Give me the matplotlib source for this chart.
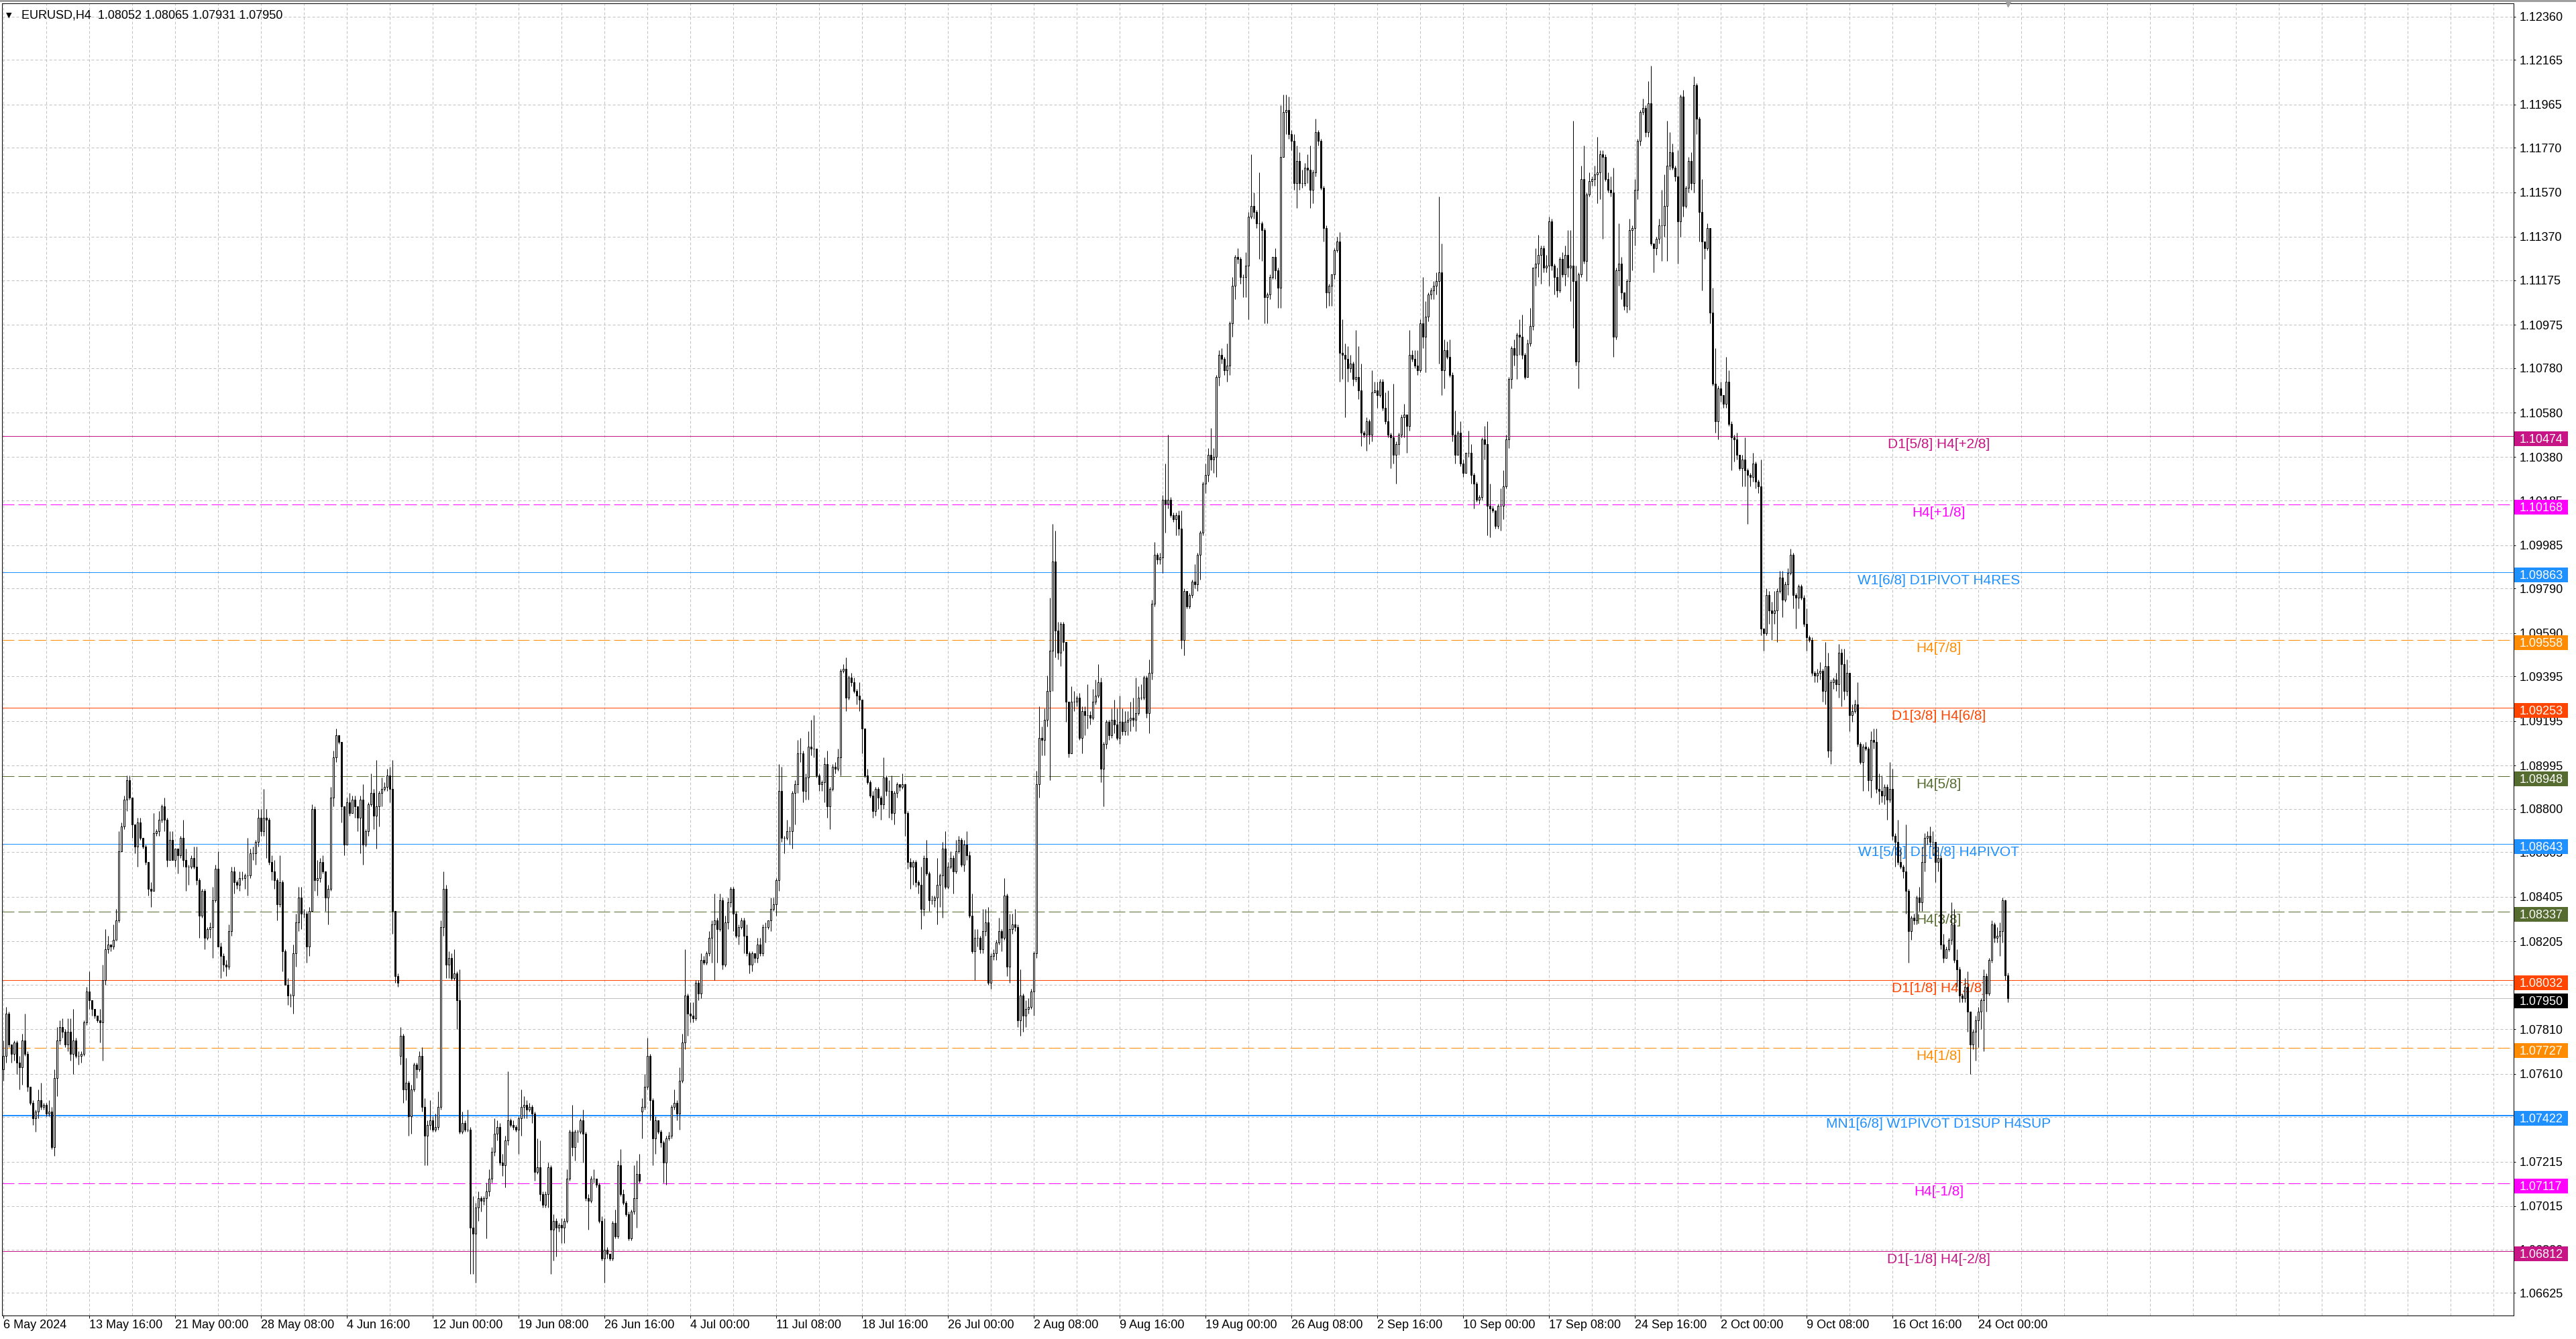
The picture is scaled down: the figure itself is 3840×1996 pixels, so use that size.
import numpy as np
import matplotlib
matplotlib.use('Agg')
import matplotlib.pyplot as plt
import matplotlib.transforms as mtransforms
from matplotlib.patches import Rectangle

plt.rcParams['font.family'] = ['Liberation Sans', 'DejaVu Sans']

# ---------------------------------------------------------------
# EURUSD H4 candles, prices written as pips above 1.0000
# (open of a candle = previous close, except the listed gaps)
# ---------------------------------------------------------------
first_open = 763
gap_opens = {148: 769, 238: 744}

close_pips = [
    # 0-93
    769, 788, 774, 770, 775, 766, 764, 776, 770, 755, 748, 741, 744, 749, 746, 747, 743, 744, 728, 759,
    776, 782, 780, 774, 780, 770, 776, 769, 769, 770, 784, 798, 794, 790, 787, 785, 784, 803, 817, 819,
    818, 821, 830, 861, 872, 884, 893, 885, 873, 863, 874, 867, 863, 856, 844, 843, 869, 870, 875, 881,
    875, 857, 866, 857, 862, 859, 867, 857, 854, 854, 858, 854, 848, 832, 843, 822, 826, 827, 839, 853,
    818, 814, 810, 809, 825, 852, 847, 846, 849, 849, 850, 850, 860, 860,
    # 94-188
    865, 876, 870, 876, 875, 856, 852, 848, 837, 847, 816, 801, 796, 796, 815, 829, 840, 833, 833, 818,
    834, 880, 848, 849, 856, 852, 840, 844, 885, 903, 913, 910, 881, 864, 883, 878, 884, 881, 876, 884,
    864, 870, 882, 887, 877, 881, 887, 889, 890, 895, 889, 834, 805, 802, 778, 754, 757, 742, 754, 765,
    763, 769, 746, 733, 738, 740, 736, 737, 746, 827, 844, 810, 813, 804, 806, 794, 735, 739, 736, 736,
    692, 689, 701, 705, 704, 705, 708, 714, 726, 734, 737, 721, 720, 731, 740,
    # 189-281
    738, 737, 736, 741, 746, 747, 745, 746, 743, 717, 719, 707, 702, 707, 719, 691, 695, 692, 693, 692,
    695, 714, 735, 728, 735, 735, 740, 734, 705, 704, 714, 714, 711, 695, 678, 682, 680, 678, 694, 688,
    720, 707, 703, 698, 687, 699, 705, 716, 713, 746, 755, 769, 749, 732, 740, 735, 730, 721, 732, 733,
    746, 748, 743, 758, 775, 796, 788, 787, 786, 802, 797, 812, 811, 815, 822, 828, 830, 826, 839, 810,
    829, 838, 844, 833, 823, 827, 830, 823, 815, 810, 815, 813, 819,
    # 282-383
    815, 827, 827, 830, 835, 837, 848, 888, 867, 867, 870, 870, 887, 891, 905, 905, 888, 894, 908, 907,
    907, 895, 891, 892, 900, 881, 889, 899, 898, 903, 942, 943, 930, 939, 937, 933, 931, 929, 916, 895,
    892, 886, 879, 889, 885, 882, 894, 888, 888, 878, 887, 891, 890, 891, 878, 856, 854, 856, 847, 846,
    835, 858, 851, 839, 839, 840, 846, 850, 862, 845, 854, 858, 852, 861, 866, 855, 864, 859, 832, 816,
    822, 822, 817, 825, 829, 802, 814, 815, 820, 825, 822, 841, 809, 826, 828, 827, 785, 796, 787, 790,
    791, 798,
    # 384-433
    815, 891, 912, 911, 920, 933, 951, 991, 960, 950, 963, 955, 928, 905, 928, 928, 930, 912, 924, 922,
    922, 921, 928, 931, 937, 898, 909, 919, 913, 920, 918, 912, 919, 915, 919, 920, 921, 920, 923, 930,
    930, 939, 923, 941, 972, 994, 992, 993, 1019, 1017,
    # 434-483
    1019, 1012, 1010, 1012, 1006, 956, 978, 971, 976, 982, 981, 994, 1004, 1026, 1030, 1039, 1037, 1038, 1074, 1084,
    1082, 1077, 1079, 1098, 1115, 1128, 1127, 1119, 1119, 1124, 1146, 1151, 1148, 1143, 1143, 1140, 1110, 1111, 1119, 1128,
    1122, 1114, 1173, 1193, 1194, 1183, 1180, 1161, 1171, 1161,
    # 484-578
    1161, 1168, 1167, 1158, 1166, 1184, 1180, 1159, 1141, 1112, 1115, 1120, 1131, 1135, 1085, 1084, 1082, 1078, 1080, 1073,
    1074, 1068, 1049, 1048, 1054, 1048, 1067, 1068, 1066, 1072, 1060, 1054, 1048, 1047, 1039, 1044, 1048, 1056, 1057, 1052,
    1084, 1082, 1079, 1077, 1098, 1092, 1101, 1111, 1113, 1115, 1117, 1121, 1077, 1086, 1083, 1075, 1048, 1039, 1049, 1035,
    1031, 1040, 1040, 1030, 1026, 1019, 1020, 1046, 1044, 1016, 1015, 1014, 1007, 1016, 1016, 1025, 1046, 1073, 1087, 1084,
    1093, 1092, 1084, 1074, 1089, 1097, 1123, 1125, 1129, 1132, 1123, 1124, 1144, 1124, 1119,
    # 579-674
    1113, 1127, 1120, 1129, 1123, 1124, 1117, 1081, 1120, 1163, 1126, 1156, 1162, 1163, 1165, 1166, 1174, 1173, 1163, 1158,
    1157, 1092, 1122, 1125, 1112, 1106, 1117, 1140, 1141, 1158, 1180, 1193, 1195, 1184, 1197, 1134, 1132, 1136, 1142, 1142,
    1151, 1169, 1175, 1168, 1164, 1144, 1200, 1151, 1159, 1171, 1161, 1205, 1190, 1148, 1135, 1132, 1141, 1103, 1071, 1054,
    1069, 1066, 1062, 1072, 1053, 1047, 1046, 1039, 1033, 1037, 1032, 1030, 1029, 1035, 1027, 1025, 961, 959, 976, 969,
    968, 969, 978, 984, 974, 981, 986, 994, 976, 975, 980, 975, 963, 957, 956, 941,
    # 675-747
    940, 941, 942, 933, 944, 906, 937, 938, 936, 950, 945, 933, 941, 922, 924, 927, 909, 901, 908, 907,
    893, 911, 910, 889, 888, 886, 890, 884, 889, 868, 865, 856, 854, 852, 843, 825, 831, 830, 840, 838,
    856, 867, 868, 865, 865, 856, 858, 819, 813, 817, 821, 828, 812, 808, 796, 795, 800, 789, 774, 780,
    785, 789, 794, 805, 797, 812, 828, 822, 823, 825, 839, 805.2, 795.0,
]

high_pips = [
    # 0-93
    776, 791, 789, 774, 776, 776, 769, 779, 788, 771, 755, 749, 745, 754, 757, 748, 748, 749, 746, 763,
    782, 785, 786, 781, 786, 786, 790, 777, 771, 771, 785, 800, 807, 794, 790, 787, 790, 810, 826, 823,
    819, 828, 835, 870, 874, 886, 895, 895, 885, 873, 876, 876, 866, 864, 856, 847, 878, 871, 879, 882,
    885, 876, 870, 870, 862, 862, 868, 875, 862, 855, 859, 863, 863, 849, 844, 844, 827, 829, 845, 855,
    861, 820, 815, 812, 828, 854, 854, 848, 852, 852, 851, 867, 862, 863,
    # 94-188
    866, 880, 880, 889, 880, 876, 859, 857, 849, 859, 848, 817, 804, 797, 819, 833, 845, 845, 835, 834,
    836, 882, 881, 857, 858, 859, 852, 846, 890, 906, 916, 913, 910, 881, 885, 887, 886, 886, 881, 886,
    891, 871, 883, 896, 889, 902, 888, 894, 892, 898, 899, 902, 834, 806, 782, 779, 768, 758, 756, 766,
    766, 771, 773, 750, 740, 749, 742, 743, 753, 830, 852, 846, 816, 815, 817, 807, 808, 744, 740, 745,
    737, 706, 703, 708, 706, 706, 712, 718, 728, 741, 740, 739, 725, 733, 762,
    # 189-281
    741, 740, 738, 742, 754, 751, 749, 748, 747, 744, 732, 731, 708, 708, 721, 720, 698, 696, 694, 696,
    696, 718, 736, 747, 736, 736, 741, 745, 735, 707, 715, 718, 714, 712, 697, 696, 683, 680, 695, 700,
    722, 727, 709, 704, 699, 700, 720, 722, 725, 750, 761, 777, 770, 750, 742, 738, 736, 731, 733, 735,
    747, 754, 749, 764, 779, 817, 797, 793, 793, 803, 803, 815, 814, 816, 825, 830, 842, 831, 842, 840,
    832, 840, 845, 845, 834, 828, 831, 831, 828, 816, 816, 815, 822,
    # 282-383
    822, 828, 829, 830, 840, 840, 849, 900, 899, 868, 875, 872, 888, 893, 911, 912, 906, 896, 915, 920,
    922, 907, 896, 893, 903, 906, 890, 900, 901, 907, 943, 945, 948, 940, 941, 939, 934, 937, 929, 916,
    898, 893, 888, 890, 890, 886, 903, 895, 893, 895, 888, 892, 891, 896, 891, 879, 858, 857, 857, 848,
    854, 859, 866, 852, 841, 841, 858, 851, 865, 870, 856, 861, 859, 866, 868, 867, 866, 870, 861, 842,
    826, 826, 823, 835, 835, 836, 815, 817, 821, 831, 826, 849, 842, 833, 833, 835, 828, 808, 797, 794,
    795, 799,
    # 384-433
    816, 897, 926, 917, 925, 940, 975, 1008, 1005, 964, 964, 964, 954, 927, 935, 933, 931, 932, 926, 926,
    936, 924, 934, 938, 945, 939, 910, 920, 920, 925, 929, 925, 931, 925, 924, 924, 928, 930, 939, 935,
    936, 940, 940, 947, 974, 1000, 995, 995, 1021, 1035,
    # 434-483
    1048, 1020, 1013, 1013, 1014, 1014, 979, 978, 977, 983, 990, 995, 1005, 1027, 1035, 1042, 1051, 1042, 1075, 1086,
    1087, 1083, 1089, 1099, 1119, 1129, 1132, 1128, 1120, 1130, 1148, 1174, 1157, 1149, 1166, 1144, 1141, 1112, 1120, 1128,
    1132, 1123, 1196, 1201, 1201, 1200, 1185, 1183, 1178, 1175,
    # 484-578
    1167, 1170, 1174, 1178, 1167, 1190, 1185, 1181, 1160, 1142, 1116, 1120, 1132, 1137, 1139, 1100, 1089, 1088, 1084, 1081,
    1095, 1088, 1080, 1050, 1056, 1055, 1077, 1072, 1072, 1073, 1073, 1067, 1068, 1049, 1071, 1045, 1049, 1057, 1062, 1057,
    1095, 1086, 1086, 1086, 1100, 1119, 1108, 1112, 1114, 1117, 1121, 1155, 1134, 1091, 1090, 1091, 1076, 1059, 1050, 1054,
    1037, 1040, 1050, 1044, 1031, 1027, 1021, 1047, 1052, 1054, 1026, 1016, 1014, 1017, 1024, 1032, 1048, 1074, 1088, 1091,
    1094, 1100, 1102, 1085, 1091, 1105, 1123, 1132, 1138, 1133, 1133, 1129, 1146, 1145, 1125,
    # 579-674
    1123, 1128, 1130, 1133, 1140, 1140, 1189, 1124, 1121, 1169, 1178, 1157, 1166, 1164, 1169, 1182, 1176, 1176, 1174, 1166,
    1164, 1168, 1123, 1143, 1128, 1112, 1118, 1145, 1142, 1163, 1181, 1194, 1199, 1196, 1207, 1214, 1134, 1137, 1145, 1158,
    1165, 1189, 1184, 1179, 1169, 1176, 1201, 1203, 1160, 1173, 1175, 1209, 1206, 1191, 1163, 1135, 1143, 1141, 1114, 1087,
    1070, 1072, 1066, 1083, 1077, 1054, 1048, 1049, 1039, 1039, 1047, 1033, 1031, 1040, 1036, 1028, 1037, 961, 979, 978,
    973, 978, 979, 987, 987, 982, 988, 997, 995, 977, 981, 981, 976, 970, 958, 957,
    # 675-747
    942, 943, 946, 943, 955, 950, 938, 939, 941, 954, 952, 952, 947, 941, 927, 929, 937, 910, 909, 910,
    908, 915, 916, 916, 896, 895, 891, 891, 901, 898, 869, 875, 862, 855, 873, 844, 832, 833, 841, 845,
    863, 869, 870, 872, 870, 863, 863, 859, 824, 818, 822, 838, 835, 817, 809, 797, 804, 807, 789, 781,
    787, 791, 795, 808, 806, 813, 830, 829, 827, 829, 840, 839.3, 806.5,
]

low_pips = [
    # 0-93
    758, 766, 773, 766, 767, 761, 754, 756, 769, 753, 747, 738, 735, 741, 745, 745, 742, 742, 727, 724,
    751, 774, 777, 773, 771, 767, 761, 768, 765, 766, 769, 783, 790, 787, 786, 784, 775, 767, 801, 815,
    816, 817, 821, 829, 861, 871, 879, 884, 867, 860, 854, 866, 862, 855, 841, 836, 843, 868, 868, 874,
    870, 854, 858, 857, 854, 851, 858, 854, 843, 846, 853, 853, 846, 822, 831, 817, 821, 822, 813, 838,
    818, 804, 807, 805, 808, 823, 842, 844, 843, 848, 844, 841, 849, 857,
    # 94-188
    855, 863, 868, 868, 858, 855, 848, 844, 830, 836, 807, 801, 792, 791, 788, 809, 825, 826, 831, 811,
    814, 834, 843, 841, 847, 851, 834, 828, 843, 881, 901, 909, 874, 859, 864, 877, 878, 876, 870, 860,
    855, 863, 868, 881, 871, 862, 872, 881, 888, 888, 883, 824, 802, 800, 765, 748, 749, 733, 734, 753,
    759, 762, 744, 720, 720, 736, 735, 735, 736, 745, 823, 804, 804, 803, 803, 781, 734, 734, 735, 735,
    671, 671, 667, 695, 699, 702, 687, 706, 712, 724, 731, 720, 715, 710, 729,
    # 189-281
    737, 736, 735, 725, 733, 741, 741, 744, 739, 713, 716, 704, 701, 701, 701, 671, 677, 679, 690, 685,
    685, 694, 713, 724, 722, 730, 734, 721, 704, 691, 703, 712, 710, 694, 677, 667, 678, 677, 677, 687,
    687, 706, 702, 697, 686, 686, 698, 692, 712, 732, 745, 754, 740, 720, 725, 734, 728, 712, 711, 731,
    732, 745, 740, 736, 757, 772, 778, 784, 784, 785, 794, 795, 810, 810, 814, 811, 803, 811, 825, 808,
    809, 826, 836, 825, 822, 819, 826, 815, 814, 806, 807, 811, 811,
    # 282-383
    814, 814, 820, 826, 825, 834, 832, 843, 865, 860, 866, 864, 862, 873, 887, 901, 883, 884, 884, 904,
    903, 894, 888, 888, 883, 876, 871, 888, 896, 897, 895, 941, 924, 929, 935, 932, 927, 924, 905, 894,
    891, 885, 876, 877, 880, 875, 880, 886, 876, 875, 873, 885, 888, 889, 868, 853, 844, 846, 845, 842,
    826, 832, 850, 834, 837, 836, 828, 836, 831, 844, 844, 853, 842, 851, 860, 854, 852, 857, 831, 815,
    803, 818, 815, 815, 823, 801, 799, 812, 812, 819, 816, 821, 805, 802, 824, 825, 782, 778, 780, 782,
    788, 790,
    # 384-433
    787, 813, 885, 904, 904, 917, 893, 933, 948, 947, 944, 951, 919, 903, 905, 924, 926, 911, 905, 913,
    916, 918, 920, 927, 930, 892, 881, 907, 911, 912, 914, 911, 909, 913, 913, 913, 915, 917, 915, 922,
    929, 929, 921, 914, 938, 971, 990, 990, 986, 1004,
    # 434-483
    1015, 1011, 1009, 1003, 1003, 952, 949, 970, 970, 975, 979, 978, 983, 1003, 1022, 1027, 1032, 1031, 1029, 1070,
    1080, 1075, 1072, 1075, 1092, 1109, 1125, 1116, 1110, 1110, 1100, 1145, 1145, 1141, 1127, 1126, 1098, 1098, 1109, 1118,
    1118, 1105, 1105, 1173, 1183, 1181, 1176, 1158, 1150, 1158,
    # 484-578
    1159, 1160, 1161, 1150, 1152, 1164, 1178, 1158, 1135, 1105, 1106, 1106, 1118, 1130, 1072, 1073, 1056, 1072, 1076, 1070,
    1072, 1064, 1043, 1047, 1041, 1044, 1045, 1067, 1060, 1065, 1059, 1053, 1047, 1033, 1035, 1026, 1039, 1047, 1047, 1040,
    1050, 1081, 1078, 1075, 1076, 1087, 1076, 1099, 1109, 1109, 1111, 1080, 1066, 1069, 1082, 1074, 1045, 1035, 1039, 1034,
    1029, 1031, 1038, 1026, 1015, 1018, 1017, 1019, 1037, 1003, 1002, 1013, 1006, 1006, 1005, 1010, 1024, 1042, 1069, 1079,
    1073, 1084, 1082, 1073, 1077, 1088, 1095, 1115, 1119, 1116, 1121, 1121, 1115, 1122, 1111,
    # 579-674
    1110, 1112, 1119, 1115, 1119, 1108, 1096, 1079, 1069, 1119, 1125, 1117, 1155, 1160, 1160, 1152, 1154, 1136, 1162, 1157,
    1155, 1083, 1091, 1115, 1109, 1104, 1103, 1104, 1122, 1133, 1154, 1178, 1192, 1182, 1182, 1133, 1121, 1129, 1134, 1126,
    1137, 1126, 1167, 1167, 1162, 1125, 1137, 1146, 1150, 1157, 1158, 1157, 1183, 1135, 1113, 1127, 1131, 1098, 1070, 1049,
    1046, 1063, 1060, 1060, 1052, 1032, 1036, 1037, 1032, 1025, 1025, 1008, 1025, 1027, 1024, 1022, 958, 951, 958, 963,
    956, 963, 955, 977, 966, 973, 976, 985, 970, 961, 970, 974, 962, 951, 955, 940,
    # 675-747
    937, 937, 938, 928, 927, 903, 900, 934, 933, 930, 926, 929, 931, 915, 919, 923, 908, 900, 888, 906,
    888, 885, 907, 887, 882, 883, 882, 875, 883, 866, 854, 855, 853, 849, 833, 811, 821, 828, 828, 834,
    834, 852, 864, 863, 859, 847, 852, 817, 811, 813, 816, 819, 811, 800, 793, 793, 793, 780, 761, 772,
    767, 773, 781, 771, 789, 796, 811, 820, 820, 814, 820, 803, 793.1,
]

# Murrey-math style levels drawn on the chart
level_prices = [1.10474, 1.10168, 1.09863, 1.09558, 1.09253, 1.08948, 1.08643,
                1.08337, 1.08032, 1.07727, 1.07422, 1.07117, 1.06812]
level_names = ['D1[5/8] H4[+2/8]', 'H4[+1/8]', 'W1[6/8] D1PIVOT H4RES', 'H4[7/8]',
               'D1[3/8] H4[6/8]', 'H4[5/8]', 'W1[5/8] D1[2/8] H4PIVOT', 'H4[3/8]',
               'D1[1/8] H4[2/8]', 'H4[1/8]', 'MN1[6/8] W1PIVOT D1SUP H4SUP',
               'H4[-1/8]', 'D1[-1/8] H4[-2/8]']

# right price scale and bottom time scale
price_ticks = [1.12360, 1.12165, 1.11965, 1.11770, 1.11570, 1.11370, 1.11175, 1.10975,
               1.10780, 1.10580, 1.10380, 1.10185, 1.09985, 1.09790, 1.09590, 1.09395,
               1.09195, 1.08995, 1.08800, 1.08605, 1.08405, 1.08205, 1.08010, 1.07810,
               1.07610, 1.07415, 1.07215, 1.07015, 1.06820, 1.06625]
date_labels = ['6 May 2024', '13 May 16:00', '21 May 00:00', '28 May 08:00', '4 Jun 16:00',
               '12 Jun 00:00', '19 Jun 08:00', '26 Jun 16:00', '4 Jul 00:00', '11 Jul 08:00',
               '18 Jul 16:00', '26 Jul 00:00', '2 Aug 08:00', '9 Aug 16:00', '19 Aug 00:00',
               '26 Aug 08:00', '2 Sep 16:00', '10 Sep 00:00', '17 Sep 08:00', '24 Sep 16:00',
               '2 Oct 00:00', '9 Oct 08:00', '16 Oct 16:00', '24 Oct 00:00']
symbol = 'EURUSD,H4'

# ---- styles ----
level_colors = ['#C71585', '#FF00FF', '#1E90FF', '#FF8C00', '#FF4500', '#556B2F', '#1E90FF',
                '#556B2F', '#FF4500', '#FF8C00', '#1E90FF', '#FF00FF', '#C71585']
level_dashed = [False, True, False, True, False, True, False, True, False, True, False, True, False]
level_width = [1, 1, 1, 1, 1, 1, 1, 1, 1, 1, 2, 1, 1]

W, H = 3840, 1996
PX = 72 / 100            # one pixel in points
bars_per_label = 32
bars_per_grid = 16
name_col = 721.25        # candle column where the level names are centred

assert len(close_pips) == len(high_pips) == len(low_pips)

c = 1 + np.array(close_pips) / 1e4
hi = 1 + np.array(high_pips) / 1e4
lo = 1 + np.array(low_pips) / 1e4
o = np.r_[1 + first_open / 1e4, c[:-1]]
for k, v in gap_opens.items():
    o[k] = 1 + v / 1e4
hi = np.maximum(hi, np.maximum(o, c))
lo = np.minimum(lo, np.minimum(o, c))
n = len(c)
idx = np.arange(n)


def fx(px):
    return px / W


def fy(px):
    return 1 - px / H


fig = plt.figure(figsize=(W / 100, H / 100), dpi=100, facecolor='white')
ax = fig.add_axes([fx(3), fy(1961), fx(3747) - fx(3), fy(5) - fy(1961)])
ax.set_xlim(-0.5, 935.5)
ax.set_ylim(1.065237, 1.124188)
ppp = (1.124188 - 1.065237) / 1956.0   # price per pixel

# grid
grid_kw = dict(color='#c0c0c0', linestyle=(0, (4, 3)), linewidth=PX)
ax.set_xticks(np.arange(len(date_labels)) * bars_per_label)
ax.set_xticklabels(date_labels, ha='left')
ax.set_xticks(np.arange(bars_per_grid, 936, bars_per_grid), minor=True)
ax.grid(True, which='both', axis='x', **grid_kw)
ax.yaxis.tick_right()
ax.set_yticks(price_ticks)
ax.set_yticklabels(['%.5f' % t for t in price_ticks])
ax.grid(True, which='major', axis='y', **grid_kw)
ax.set_axisbelow(True)

ax.tick_params(axis='x', which='major', length=4 * PX, width=PX, pad=2 * PX,
               labelsize=13, colors='black')
ax.tick_params(axis='x', which='minor', length=0)
ax.tick_params(axis='y', length=3 * PX, width=PX, pad=6 * PX, labelsize=13, colors='black')
for s in ax.spines.values():
    s.set_linewidth(PX)
    s.set_color('black')

# levels
for price, name, col, dashed, wpx in zip(level_prices, level_names, level_colors,
                                         level_dashed, level_width):
    ls = (0, (18, 6)) if dashed else '-'
    ax.axhline(price, color=col, linewidth=wpx * PX, linestyle=ls, zorder=2)
    ax.annotate(name, xy=(name_col, price), xytext=(0, -3), textcoords='offset pixels',
                ha='center', va='top', color=col, fontsize=15, zorder=2.2)

# current price line
ax.axhline(c[-1], color='#c0c0c0', linewidth=PX, zorder=2)

# candles
ax.vlines(idx, lo, hi, color='black', linewidth=PX, zorder=4)
body_lo = np.minimum(o, c)
body_hi = np.maximum(o, c)
ax.bar(idx, body_hi - body_lo, width=0.5, bottom=body_lo,
       color=np.where(c >= o, 'white', 'black'), edgecolor='black',
       linewidth=PX, zorder=5)

# price boxes on the right scale
box_tf = mtransforms.blended_transform_factory(fig.transFigure, ax.transData)
box_prices = level_prices + [c[-1]]
box_colors = level_colors + ['black']
for price, col in zip(box_prices, box_colors):
    yc = price - 4 * ppp
    ax.add_patch(Rectangle((fx(3748), yc - 11 * ppp), 80 / W, 22 * ppp, transform=box_tf,
                           facecolor=col, edgecolor='none', clip_on=False, zorder=10))
    ax.text(fx(3756), yc - 1.5 * ppp, '%.5f' % price, transform=box_tf, color='white',
            fontsize=13, va='center', ha='left', clip_on=False, zorder=11)

# chart shift marker
top_tf = mtransforms.blended_transform_factory(ax.transData, ax.transAxes)
ax.plot([n - 1], [1.0], marker='v', markersize=9 * PX, color='#a0a0a0',
        transform=top_tf, clip_on=False, zorder=12)

# header
fig.text(fx(9), fy(23), '\u25bc', fontsize=8, family='DejaVu Sans', va='center', ha='left')
fig.text(fx(32), fy(23), '%s  %.5f %.5f %.5f %.5f' % (symbol, o[-1], hi[-1], lo[-1], c[-1]),
         fontsize=13, va='center', ha='left', color='black')

# window border
fig.patches.append(Rectangle((0, fy(3)), 1, 3 / H, transform=fig.transFigure,
                             facecolor='#a0a0a0', edgecolor='none'))

fig.savefig('out.png', dpi=100, facecolor='white')
